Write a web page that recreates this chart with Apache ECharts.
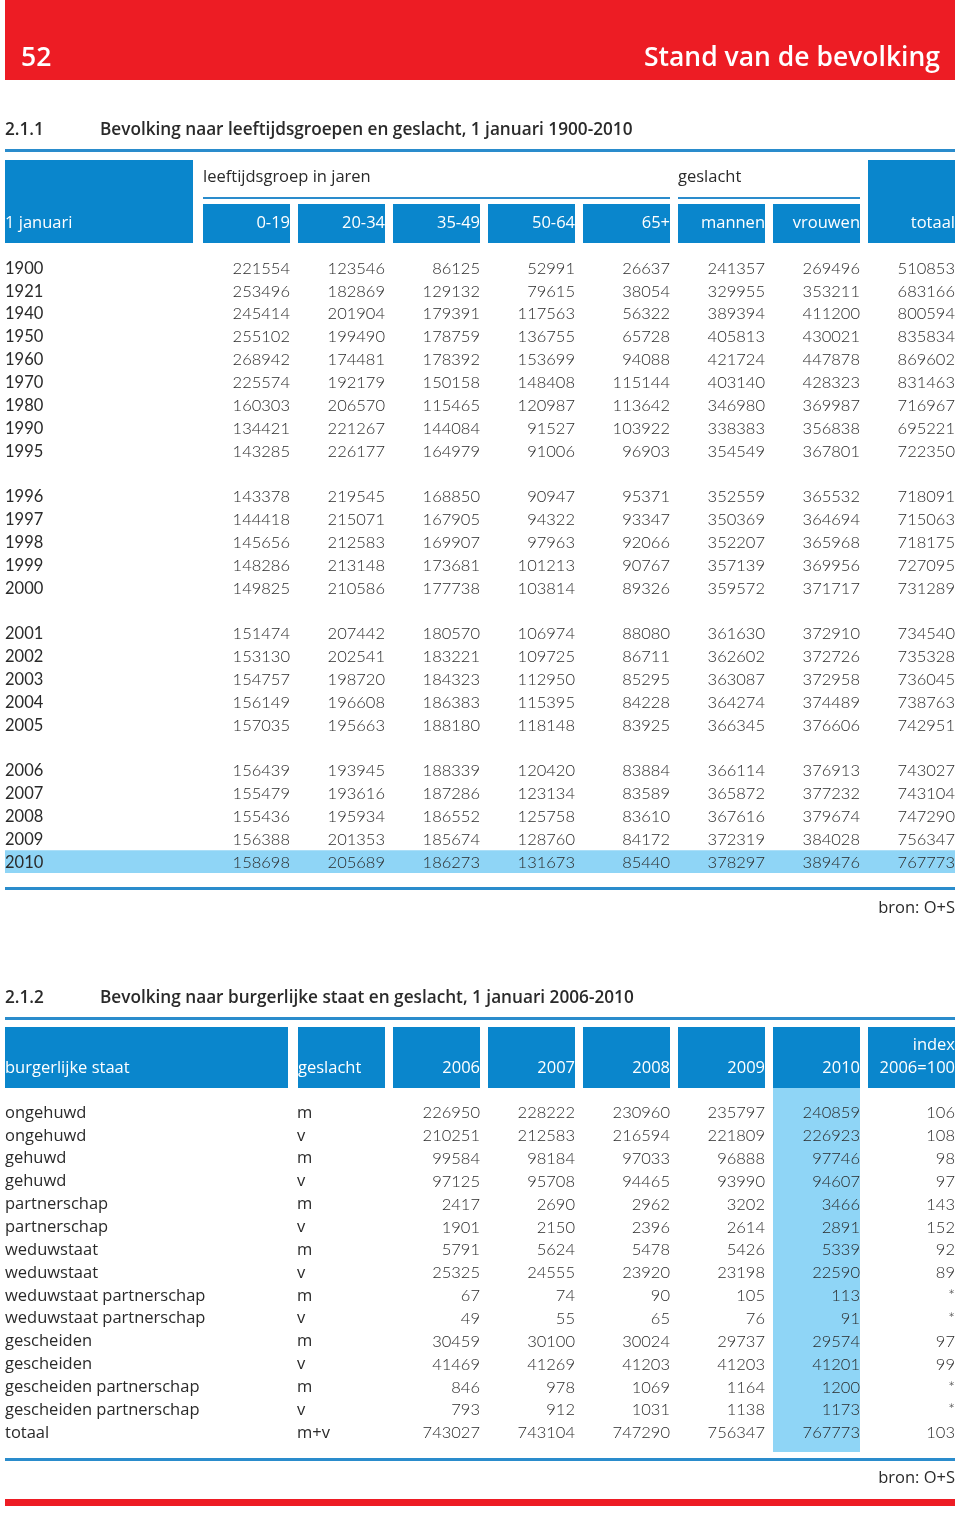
<!DOCTYPE html>
<html><head><meta charset="utf-8">
<script src="https://cdn.jsdelivr.net/npm/echarts@6/dist/echarts.min.js"></script>
<style>html,body{margin:0;padding:0;background:#fff}#c{width:960px;height:1516px}</style>
</head><body><div id="c"></div>
<script>
// ---------- Table 2.1.1 data ----------
const years = ['1900','1921','1940','1950','1960','1970','1980','1990','1995','1996','1997','1998','1999','2000','2001','2002','2003','2004','2005','2006','2007','2008','2009','2010'];
const gapAfter = ['1995','2000','2005'];
const age0_19  = [221554,253496,245414,255102,268942,225574,160303,134421,143285,143378,144418,145656,148286,149825,151474,153130,154757,156149,157035,156439,155479,155436,156388,158698];
const age20_34 = [123546,182869,201904,199490,174481,192179,206570,221267,226177,219545,215071,212583,213148,210586,207442,202541,198720,196608,195663,193945,193616,195934,201353,205689];
const age35_49 = [86125,129132,179391,178759,178392,150158,115465,144084,164979,168850,167905,169907,173681,177738,180570,183221,184323,186383,188180,188339,187286,186552,185674,186273];
const age50_64 = [52991,79615,117563,136755,153699,148408,120987,91527,91006,90947,94322,97963,101213,103814,106974,109725,112950,115395,118148,120420,123134,125758,128760,131673];
const age65    = [26637,38054,56322,65728,94088,115144,113642,103922,96903,95371,93347,92066,90767,89326,88080,86711,85295,84228,83925,83884,83589,83610,84172,85440];
const mannen   = [241357,329955,389394,405813,421724,403140,346980,338383,354549,352559,350369,352207,357139,359572,361630,362602,363087,364274,366345,366114,365872,367616,372319,378297];
const vrouwen  = [269496,353211,411200,430021,447878,428323,369987,356838,367801,365532,364694,365968,369956,371717,372910,372726,372958,374489,376606,376913,377232,379674,384028,389476];
const totaal   = [510853,683166,800594,835834,869602,831463,716967,695221,722350,718091,715063,718175,727095,731289,734540,735328,736045,738763,742951,743027,743104,747290,756347,767773];
const headers1 = ['0-19','20-34','35-49','50-64','65+','mannen','vrouwen','totaal'];
const highlightYear = '2010';

// ---------- Table 2.1.2 data ----------
const staat = ['ongehuwd','ongehuwd','gehuwd','gehuwd','partnerschap','partnerschap','weduwstaat','weduwstaat','weduwstaat partnerschap','weduwstaat partnerschap','gescheiden','gescheiden','gescheiden partnerschap','gescheiden partnerschap','totaal'];
const geslacht = ['m','v','m','v','m','v','m','v','m','v','m','v','m','v','m+v'];
const y2006 = [226950,210251,99584,97125,2417,1901,5791,25325,67,49,30459,41469,846,793,743027];
const y2007 = [228222,212583,98184,95708,2690,2150,5624,24555,74,55,30100,41269,978,912,743104];
const y2008 = [230960,216594,97033,94465,2962,2396,5478,23920,90,65,30024,41203,1069,1031,747290];
const y2009 = [235797,221809,96888,93990,3202,2614,5426,23198,105,76,29737,41203,1164,1138,756347];
const y2010 = [240859,226923,97746,94607,3466,2891,5339,22590,113,91,29574,41201,1200,1173,767773];
const indexCol = ['106','108','98','97','143','152','92','89','*','*','97','99','*','*','103'];
const headers2 = ['2006','2007','2008','2009','2010'];

// ---------- styles ----------
const NUMFONT = 'Lato, "Noto Sans", sans-serif';
const LBLFONT = '"Open Sans", "Noto Sans", sans-serif';
const TXT = '#2a2a2a';
const BLUE = '#0a86cc';
const LINE = '#2a8ccc';
const LIGHT = '#8fd5f6';

// table 1 rows (with blank spacer rows)
const rowOf = [];
let r = 0;
years.forEach(y => { rowOf.push(r); r++; if (gapAfter.includes(y)) r++; });
const nRows1 = r;
const cols1 = [age0_19, age20_34, age35_49, age50_64, age65, mannen, vrouwen, totaal];
const cells1 = [];
years.forEach((y, i) => {
  cells1.push({xs: 0, xe: 2, r: rowOf[i], text: y, align: 'left', pad: 0, f: '400 16.5px ' + NUMFONT});
  cols1.forEach((col, k) => cells1.push({xs: 2 + k, xe: 3 + k, r: rowOf[i], text: String(col[i]), align: 'right', pad: 0, f: '300 16.5px ' + NUMFONT}));
});
const cols2 = [y2006, y2007, y2008, y2009, y2010];
const cells2 = [];
staat.forEach((s, i) => {
  cells2.push({xs: 0, xe: 3, r: i, text: s, align: 'left', pad: 0, f: '400 16.5px ' + LBLFONT});
  cells2.push({xs: 3, xe: 4, r: i, text: geslacht[i], align: 'left', pad: 7, f: '400 16.5px ' + LBLFONT});
  cols2.forEach((col, k) => cells2.push({xs: 4 + k, xe: 5 + k, r: i, text: String(col[i]), align: 'right', pad: 0, f: '300 16.5px ' + NUMFONT}));
  cells2.push({xs: 9, xe: 10, r: i, text: indexCol[i], align: 'right', pad: 0, f: '300 16.5px ' + NUMFONT});
});

const Y1 = {min: -0.5, max: nRows1 - 0.5};
const Y2 = {min: -1.05, max: staat.length - 0.125};

function cellRenderer(cells) {
  return function (params, api) {
    const c = cells[params.dataIndex];
    const a = api.coord([c.xs, c.r]);
    const b = api.coord([c.xe, c.r]);
    return {
      type: 'text',
      x: c.align === 'right' ? b[0] : a[0] + c.pad,
      y: a[1] + 1,
      style: {text: c.text, fill: TXT, font: c.f, align: c.align, verticalAlign: 'middle'}
    };
  };
}

const hlRow = rowOf[years.indexOf(highlightYear)];
const hlCol = 4 + headers2.indexOf('2010');

const chart = echarts.init(document.getElementById('c'), null, {renderer: 'canvas'});
chart.setOption({
  animation: false,
  backgroundColor: '#ffffff',
  grid: [
    {left: 5, width: 950, top: 256, height: 617},
    {left: 5, width: 950, top: 1088, height: 364}
  ],
  xAxis: [
    {type: 'value', gridIndex: 0, min: 0, max: 10, show: false},
    {type: 'value', gridIndex: 1, min: 0, max: 10, show: false}
  ],
  yAxis: [
    {type: 'value', gridIndex: 0, inverse: true, min: Y1.min, max: Y1.max, show: false},
    {type: 'value', gridIndex: 1, inverse: true, min: Y2.min, max: Y2.max, show: false}
  ],
  series: [
    {
      type: 'custom', xAxisIndex: 0, yAxisIndex: 0, silent: true, z: 1,
      data: [[0, hlRow]],
      renderItem: function (params, api) {
        const a = api.coord([0, hlRow - 0.5]);
        const b = api.coord([10, hlRow + 0.5]);
        return {type: 'rect', shape: {x: a[0], y: a[1], width: b[0] - a[0], height: b[1] - a[1]}, style: {fill: LIGHT}};
      }
    },
    {
      type: 'custom', xAxisIndex: 1, yAxisIndex: 1, silent: true, z: 1,
      data: [[hlCol, 0]],
      renderItem: function (params, api) {
        const a = api.coord([hlCol, Y2.min]);
        const b = api.coord([hlCol + 1, Y2.max]);
        return {type: 'rect', shape: {x: a[0] + 8, y: a[1], width: b[0] - a[0] - 8, height: b[1] - a[1]}, style: {fill: LIGHT}};
      }
    },
    {
      type: 'custom', xAxisIndex: 0, yAxisIndex: 0, silent: true, z: 2,
      data: cells1.map(c => [c.xs, c.r]),
      renderItem: cellRenderer(cells1)
    },
    {
      type: 'custom', xAxisIndex: 1, yAxisIndex: 1, silent: true, z: 2,
      data: cells2.map(c => [c.xs, c.r]),
      renderItem: cellRenderer(cells2)
    }
  ]
});

// ---------- page decoration & headers (x derived from the axes) ----------
const X = u => chart.convertToPixel({gridIndex: 0}, [u, 0])[0];
const g = [];
function rect(x, y, w, h, fill) { g.push({type: 'rect', shape: {x, y, width: w, height: h}, style: {fill}, silent: true}); }
function text(x, y, t, opt) {
  opt = opt || {};
  g.push({type: 'text', x, y, silent: true, z: 10, style: {text: t, fill: opt.fill || TXT, font: (opt.w || 400) + ' ' + (opt.size || 16.5) + 'px ' + (opt.font || LBLFONT), align: opt.align || 'left', verticalAlign: 'middle'}});
}
const GAP = 8;
// red band
rect(5, 0, 950, 80, '#ed1c24');
text(21, 58, '52', {fill: '#fff', size: 26.5, w: 600});
text(940, 58, 'Stand van de bevolking', {fill: '#fff', size: 26.5, w: 600, align: 'right'});

// table 1 title and header
text(5, 130, '2.1.1', {size: 17.2, w: 600});
text(100, 130, 'Bevolking naar leeftijdsgroepen en geslacht, 1 januari 1900-2010', {size: 17.2, w: 600});
rect(5, 149, 950, 3, LINE);
rect(X(0), 160, X(2) - X(0) - 2, 83, BLUE);
text(X(0), 223, '1 januari', {fill: '#fff'});
rect(X(9) + GAP, 160, X(10) - X(9) - GAP, 83, BLUE);
text(X(10), 223, headers1[7], {fill: '#fff', align: 'right'});
for (let k = 0; k < 7; k++) {
  rect(X(2 + k) + GAP, 204, X(3 + k) - X(2 + k) - GAP, 39, BLUE);
  text(X(3 + k), 223, headers1[k], {fill: '#fff', align: 'right'});
}
text(X(2) + GAP, 177, 'leeftijdsgroep in jaren');
rect(X(2) + GAP, 197, X(7) - X(2) - GAP, 2, LINE);
text(X(7) + GAP, 177, 'geslacht');
rect(X(7) + GAP, 197, X(9) - X(7) - GAP, 2, LINE);
rect(5, 887, 950, 3, LINE);
text(955, 908, 'bron: O+S', {align: 'right'});

// table 2 title and header
text(5, 998, '2.1.2', {size: 17.2, w: 600});
text(100, 998, 'Bevolking naar burgerlijke staat en geslacht, 1 januari 2006-2010', {size: 17.2, w: 600});
rect(5, 1017, 950, 3, LINE);
rect(X(0), 1027, X(3) - X(0) - 2, 61, BLUE);
text(X(0), 1068, 'burgerlijke staat', {fill: '#fff'});
rect(X(3) + GAP, 1027, X(4) - X(3) - GAP, 61, BLUE);
text(X(3) + GAP, 1068, 'geslacht', {fill: '#fff'});
for (let k = 0; k < 5; k++) {
  rect(X(4 + k) + GAP, 1027, X(5 + k) - X(4 + k) - GAP, 61, BLUE);
  text(X(5 + k), 1068, headers2[k], {fill: '#fff', align: 'right'});
}
rect(X(9) + GAP, 1027, X(10) - X(9) - GAP, 61, BLUE);
text(X(10), 1045, 'index', {fill: '#fff', align: 'right'});
text(X(10), 1068, '2006=100', {fill: '#fff', align: 'right'});
rect(5, 1458, 950, 3, LINE);
text(955, 1478, 'bron: O+S', {align: 'right'});
rect(5, 1499, 950, 7, '#ed1c24');

chart.setOption({graphic: {elements: g}});
</script>
</body></html>
